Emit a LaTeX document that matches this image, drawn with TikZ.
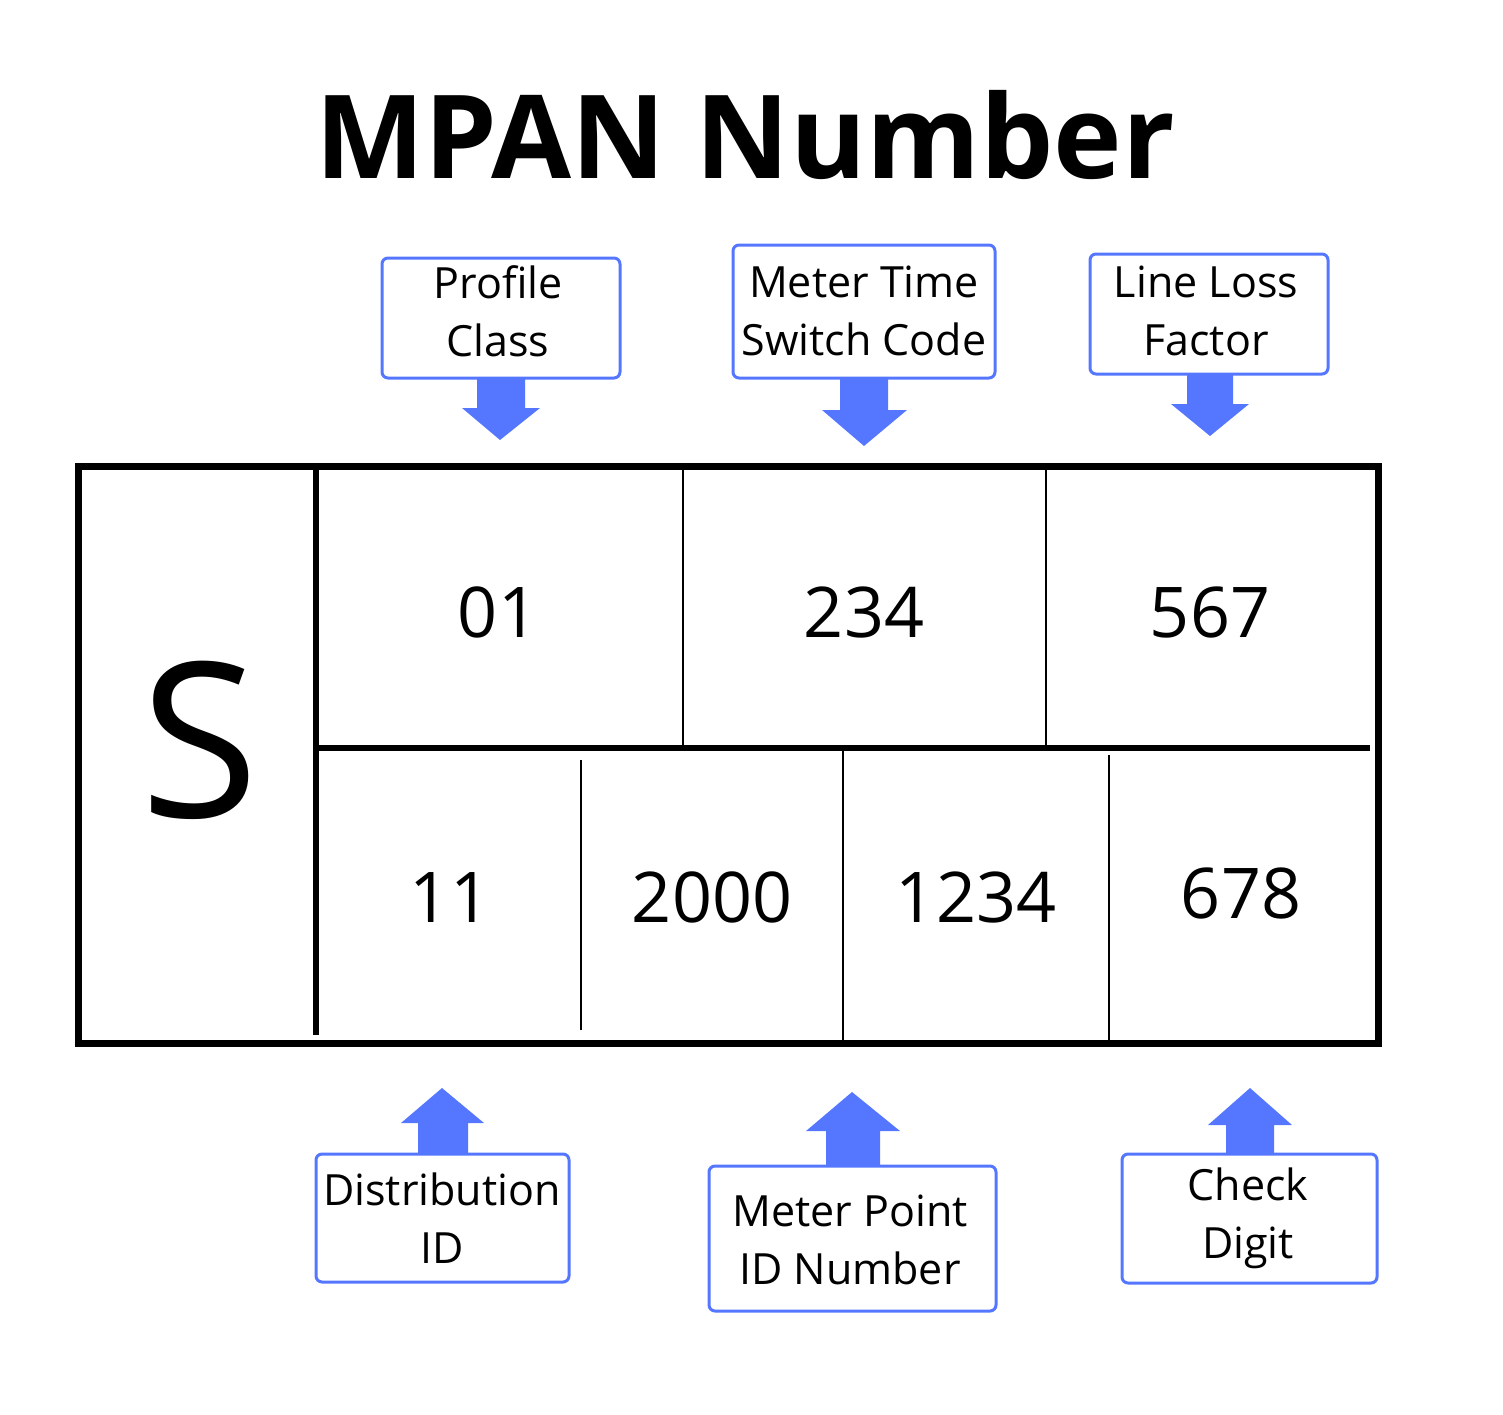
\documentclass[tikz,border=0pt]{standalone}
\usepackage{fontspec}
\setmainfont{Open Sans}
\definecolor{lb}{HTML}{5577FF}
\begin{document}
\begin{tikzpicture}[x=0.5pt,y=-0.5pt,
 box/.style={draw=lb,line width=1.5pt,rounded corners=3pt,inner sep=0pt},
 lbl/.style={align=center,font=\fontsize{21.5}{29}\selectfont,inner sep=0pt},
 num/.style={font=\fontsize{35}{40}\selectfont},
 arr/.style={fill=lb,draw=none}]
\useasboundingbox (0,0) rectangle (1503,1414);
\node[font=\fontsize{58}{64}\selectfont\bfseries] (title) at (745,135) {MPAN Number};
% table
\draw[line width=3.5pt] (78,466) rectangle (1378,1043);
\draw[line width=3pt] (316,466) -- (316,1035);
\draw[line width=3pt] (316,748) -- (1370,748);
\draw[line width=1pt] (683,466) -- (683,748) (1046,466) -- (1046,748)
 (581,760) -- (581,1030) (843,748) -- (843,1040) (1109,755) -- (1109,1040);
\node[font=\fontsize{108}{112}\selectfont] (s) at (200,740) {S};
\node[num] (n1) at (498,612) {01};
\node[num] (n2) at (864,612) {234};
\node[num] (n3) at (1210,612) {567};
\node[num] (n4) at (450,897) {11};
\node[num] (n5) at (712,897) {2000};
\node[num] (n6) at (976,897) {1234};
\node[num] (n7) at (1241,893) {678};
% label boxes
\node[box,minimum width=119pt,minimum height=60pt] (pc) at (501,318) {};
\node[box,minimum width=131pt,minimum height=66.5pt] (mt) at (864,311.5) {};
\node[box,minimum width=119pt,minimum height=60pt] (ll) at (1209,314) {};
\node[box,minimum width=126.5pt,minimum height=64pt] (di) at (442.5,1218) {};
\node[box,minimum width=143.5pt,minimum height=72.5pt] (mp) at (852.5,1238.5) {};
\node[box,minimum width=127.5pt,minimum height=64.5pt] (cd) at (1249.5,1218.5) {};
\node[lbl] (pct) at (498,311) {Profile\\Class};
\node[lbl] (mtt) at (864,311) {Meter Time\\Switch Code};
\node[lbl] (llt) at (1206,311) {Line Loss\\Factor};
\node[lbl] (dit) at (442,1218) {Distribution\\ID};
\node[lbl] (mpt) at (850,1240) {Meter Point\\ID Number};
\node[lbl] (cdt) at (1248,1218) {Check\\Digit};
% arrows
\fill[arr] (477,378) -- (525,378) -- (525,408) -- (540,408) -- (500,440) -- (462,408) -- (477,408) -- cycle;
\fill[arr] (840,378) -- (888,378) -- (888,410) -- (907,410) -- (864,446) -- (822,410) -- (840,410) -- cycle;
\fill[arr] (1187,374) -- (1233,374) -- (1233,404) -- (1249,404) -- (1210,436) -- (1171,404) -- (1187,404) -- cycle;
\fill[arr] (418,1154) -- (468,1154) -- (468,1123) -- (484,1123) -- (442,1088) -- (401,1123) -- (418,1123) -- cycle;
\fill[arr] (826,1166) -- (880,1166) -- (880,1131) -- (900,1131) -- (852,1092) -- (806,1131) -- (826,1131) -- cycle;
\fill[arr] (1226,1154) -- (1274,1154) -- (1274,1125) -- (1292,1125) -- (1250,1088) -- (1208,1125) -- (1226,1125) -- cycle;
\end{tikzpicture}
\end{document}
